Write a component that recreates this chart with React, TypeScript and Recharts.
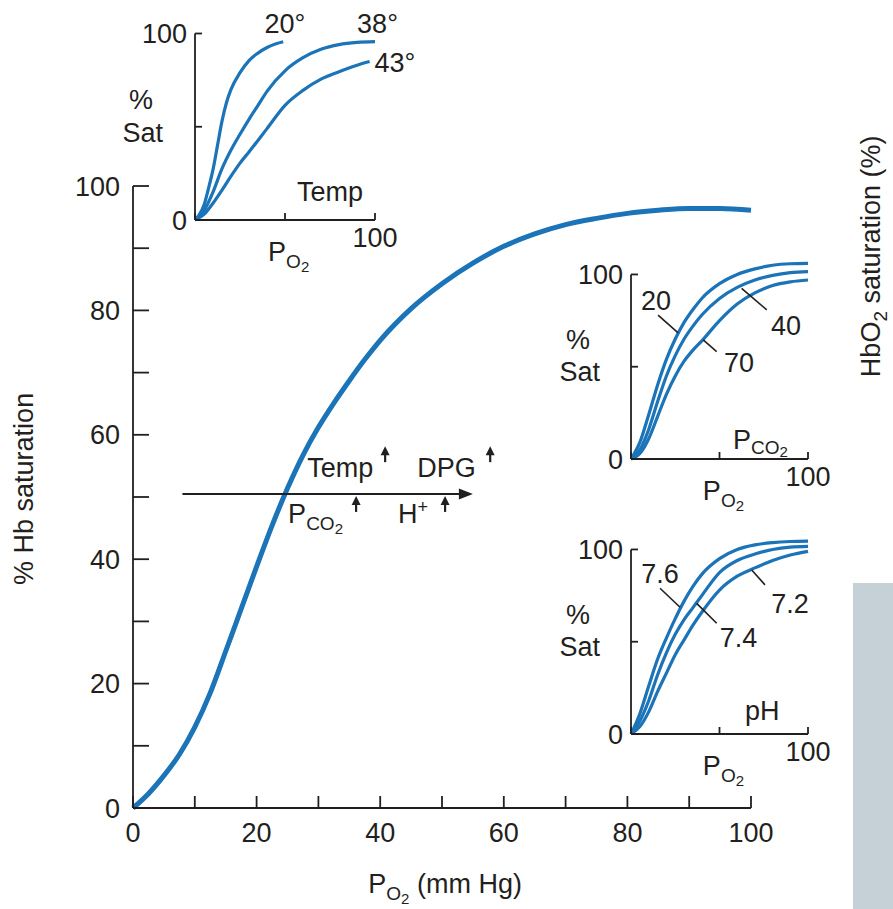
import React from "react";
import {
  LineChart,
  Line,
  XAxis,
  YAxis,
  ReferenceLine,
  ReferenceDot,
} from "recharts";

const FONT = '"Liberation Sans", Arial, Helvetica, sans-serif';
const INK = "#231f20";
const BLUE = "#1b73b8";

// main dissociation curve: % Hb saturation against PO2 (mm Hg)
const mainPo2 = [0, 2.5, 5, 7.5, 10, 12.5, 15, 17.5, 20, 22.5, 25, 27.5, 30, 32.5, 35, 37.5, 40, 45, 50, 55, 60, 65, 70, 75, 80, 85, 90, 95, 100];
const mainSat = [0, 2.3, 5.2, 8.6, 13, 18.5, 25.2, 32, 38.8, 45.4, 51.4, 56.7, 61.2, 65.1, 68.7, 72.1, 75.2, 80.3, 84.3, 87.6, 90.3, 92.3, 93.8, 94.8, 95.6, 96.1, 96.4, 96.4, 96.1];
const mainTicks = [0, 10, 20, 30, 40, 50, 60, 70, 80, 90, 100];

// temperature inset
const temp20Po2 = [0, 2.5, 5, 7.5, 10, 12.5, 15, 17.5, 20, 25, 30, 35, 40, 45, 49];
const temp20Sat = [0, 3, 8, 17, 27, 40, 53, 63, 70, 79, 85.5, 89.5, 92.5, 94.5, 95.6];
const temp38Po2 = [0, 5, 10, 15, 20, 25, 30, 35, 40, 50, 60, 70, 80, 90, 100];
const temp38Sat = [0, 5, 15, 27.5, 37.5, 46, 54, 61.5, 69, 80, 87, 91.5, 94, 95.2, 95.6];
const temp43Po2 = [0, 5, 10, 15, 20, 25, 30, 40, 50, 60, 70, 80, 90, 97];
const temp43Sat = [0, 3, 9, 16, 23.5, 30.5, 36.5, 49, 61.5, 69.5, 75.5, 79.5, 83, 85];

// PCO2 and pH insets share the PO2 grid
const insetPo2 = [0, 5, 10, 15, 20, 25, 30, 35, 40, 50, 60, 70, 80, 90, 100];
const co2Sat20 = [0, 9, 24, 40, 54, 65, 74, 81, 87, 95, 100, 103, 105, 105.8, 106];
const co2Sat40 = [0, 5, 16, 31, 45, 56, 65, 72, 78, 87, 93, 97, 99.5, 101, 101.5];
const co2Sat70 = [0, 3, 11, 23, 35, 45, 53, 59, 64, 75, 84, 90, 94, 96, 97];
const phSat76 = [0, 11, 26, 40.5, 52, 62.5, 72, 80, 86.5, 95, 100, 102.5, 103.7, 104.3, 104.5];
const phSat74 = [0, 7, 18, 32, 44, 54, 62, 68.5, 75, 87.5, 94, 97.5, 100, 101.3, 101.7];
const phSat72 = [0, 4, 12, 23, 33, 43, 51, 59, 66, 78, 85.5, 90, 94, 97, 99];
const insetTicks = [0, 50, 100];

const rows = (xs: number[], ys: number[]) => xs.map((x, i) => ({ x, y: ys[i] }));

const textShape =
  (content: React.ReactNode, anchor: "start" | "middle" | "end" = "start", rotate = false) =>
  (p: any) => (
    <text
      x={p.cx}
      y={p.cy}
      textAnchor={anchor}
      fontSize={27}
      fontFamily={FONT}
      fill={INK}
      transform={rotate ? `rotate(-90 ${p.cx} ${p.cy})` : undefined}
    >
      {content}
    </text>
  );

const upArrow = (p: any) => (
  <g>
    <line x1={p.cx} y1={p.cy} x2={p.cx} y2={p.cy - 9} stroke={INK} strokeWidth={2.2} />
    <polygon points={`${p.cx},${p.cy - 16} ${p.cx - 4.5},${p.cy - 7} ${p.cx + 4.5},${p.cy - 7}`} fill={INK} />
  </g>
);

const rightHead = (p: any) => (
  <polygon points={`${p.cx},${p.cy} ${p.cx - 14},${p.cy - 5.5} ${p.cx - 14},${p.cy + 5.5}`} fill={INK} />
);

const sub = (main: string, s1: string, s2: string, d1 = 7, d2 = 4) => (
  <>
    {main}
    <tspan fontSize={19} dy={d1}>{s1}</tspan>
    <tspan fontSize={15} dy={d2}>{s2}</tspan>
  </>
);

const note = (x: number, y: number, content: React.ReactNode, anchor: "start" | "middle" | "end" = "start", rotate = false) => (
  <ReferenceDot x={x} y={y} r={0} ifOverflow="visible" shape={textShape(content, anchor, rotate)} />
);

const pointer = (x1: number, y1: number, x2: number, y2: number) => (
  <ReferenceLine segment={[{ x: x1, y: y1 }, { x: x2, y: y2 }]} stroke={INK} strokeWidth={1.6} ifOverflow="visible" />
);

const tickStyle = { fontSize: 27, fill: INK, fontFamily: FONT };

interface InsetProps {
  left: number;
  top: number;
  width: number;
  height: number;
  axisW: number;
  mTop: number;
  mRight: number;
  axisH: number;
  yMax: number;
  series: { x: number; y: number }[][];
  children?: React.ReactNode;
}

function Inset({ left, top, width, height, axisW, mTop, mRight, axisH, yMax, series, children }: InsetProps) {
  return (
    <div style={{ position: "absolute", left, top }}>
      <LineChart width={width} height={height} margin={{ top: mTop, right: mRight, left: 0, bottom: 0 }}>
        <XAxis
          type="number"
          dataKey="x"
          domain={[0, 100]}
          ticks={insetTicks}
          interval={0}
          height={axisH}
          tickSize={-7}
          tickMargin={15}
          tickFormatter={(v: number) => (v === 100 ? "100" : "")}
          tick={tickStyle}
          stroke={INK}
          strokeWidth={1.8}
        />
        <YAxis
          type="number"
          domain={[0, yMax]}
          ticks={insetTicks}
          interval={0}
          width={axisW}
          tickSize={-7}
          tickMargin={15}
          axisLine={false}
          tickFormatter={(v: number) => (v === 50 ? "" : String(v))}
          tick={tickStyle}
          stroke={INK}
          strokeWidth={1.8}
        />
        <ReferenceLine segment={[{ x: 0, y: 0 }, { x: 0, y: 100 }]} stroke={INK} strokeWidth={1.8} ifOverflow="visible" />
        {series.map((d, i) => (
          <Line
            key={i}
            data={d}
            dataKey="y"
            type="monotone"
            stroke={BLUE}
            strokeWidth={3.2}
            dot={false}
            isAnimationActive={false}
          />
        ))}
        {note(-30, 59.5, "%", "middle")}
        {note(-29, 42, "Sat", "middle")}
        {note(40.6, -22, sub("P", "O", "2"))}
        {children}
      </LineChart>
    </div>
  );
}

export default function App() {
  return (
    <div style={{ position: "absolute", left: 0, top: 0, width: 893, height: 909, background: "#fff", fontFamily: FONT }}>
      <div style={{ position: "absolute", left: 853, top: 583, width: 40, height: 326, background: "#c6d1d7" }} />
      <div style={{ position: "absolute", left: 0, top: 0 }}>
        <LineChart width={893} height={909} margin={{ top: 186, right: 142, left: 0, bottom: 0 }}>
          <XAxis
            type="number"
            dataKey="x"
            domain={[0, 100]}
            ticks={mainTicks}
            interval={0}
            height={101}
            tickSize={-12}
            tickMargin={27}
            tickFormatter={(v: number) => (v % 20 === 0 ? String(v) : "")}
            tick={tickStyle}
            stroke={INK}
            strokeWidth={1.8}
          />
          <YAxis
            type="number"
            domain={[0, 100]}
            ticks={mainTicks}
            interval={0}
            width={133}
            tickSize={-16}
            tickMargin={29}
            tickFormatter={(v: number) => (v % 20 === 0 ? String(v) : "")}
            tick={tickStyle}
            stroke={INK}
            strokeWidth={1.8}
          />
          <Line
            data={rows(mainPo2, mainSat)}
            dataKey="y"
            type="monotone"
            stroke={BLUE}
            strokeWidth={5}
            dot={false}
            isAnimationActive={false}
          />
          <ReferenceLine segment={[{ x: 8, y: 50.5 }, { x: 53, y: 50.5 }]} stroke={INK} strokeWidth={2} />
          <ReferenceDot x={55} y={50.5} r={0} shape={rightHead} />
          {note(28.2, 53.2, "Temp")}
          <ReferenceDot x={40.8} y={55.6} r={0} shape={upArrow} />
          {note(46, 53.2, "DPG")}
          <ReferenceDot x={57.8} y={55.6} r={0} shape={upArrow} />
          {note(25.1, 45.8, sub("P", "CO", "2"))}
          <ReferenceDot x={36.1} y={47.6} r={0} shape={upArrow} />
          {note(42.9, 45.8, <>H<tspan fontSize={18} dy={-10}>+</tspan></>)}
          <ReferenceDot x={50.5} y={47.6} r={0} shape={upArrow} />
          {note(-16.2, 51.3, "% Hb saturation", "middle", true)}
          {note(50.5, -13.7, <>{sub("P", "O", "2")}<tspan dy={-11}> (mm Hg)</tspan></>, "middle")}
          {note(120.9, 88.7, <>HbO<tspan fontSize={19} dy={7}>2</tspan><tspan dy={-7}> saturation (%)</tspan></>, "middle", true)}
        </LineChart>
      </div>

      <Inset
        left={110}
        top={0}
        width={320}
        height={290}
        axisW={85}
        mTop={33.5}
        mRight={55}
        axisH={70}
        yMax={100}
        series={[rows(temp20Po2, temp20Sat), rows(temp38Po2, temp38Sat), rows(temp43Po2, temp43Sat)]}
      >
        {note(50, 100.5, "20°", "middle")}
        {note(101.4, 100.5, "38°", "middle")}
        {note(111.1, 79.4, "43°", "middle")}
        {note(56.7, 10.2, "Temp")}
      </Inset>

      <Inset
        left={540}
        top={230}
        width={350}
        height={296}
        axisW={91}
        mTop={26}
        mRight={82}
        axisH={67}
        yMax={110}
        series={[rows(insetPo2, co2Sat20), rows(insetPo2, co2Sat40), rows(insetPo2, co2Sat70)]}
      >
        {note(14.1, 80.8, "20", "middle")}
        {note(61, 47.2, "70", "middle")}
        {note(87.6, 67.2, "40", "middle")}
        {pointer(15.3, 78, 26.6, 68.3)}
        {pointer(40.8, 64.5, 48.4, 58.2)}
        {pointer(62.5, 92.5, 76.7, 80.8)}
        {note(57.6, 5.6, sub("P", "CO", "2", 5, 3))}
      </Inset>

      <Inset
        left={540}
        top={505}
        width={350}
        height={296}
        axisW={91}
        mTop={26}
        mRight={82}
        axisH={67}
        yMax={110}
        series={[rows(insetPo2, phSat76), rows(insetPo2, phSat74), rows(insetPo2, phSat72)]}
      >
        {note(16.4, 81.8, "7.6", "middle")}
        {note(60.7, 47.2, "7.4", "middle")}
        {note(89.8, 65.6, "7.2", "middle")}
        {pointer(16.4, 79, 27.7, 68.7)}
        {pointer(37.1, 70.8, 48.4, 60)}
        {pointer(68.2, 88.9, 75.7, 80.8)}
        {note(64.4, 7.6, "pH")}
      </Inset>
    </div>
  );
}
